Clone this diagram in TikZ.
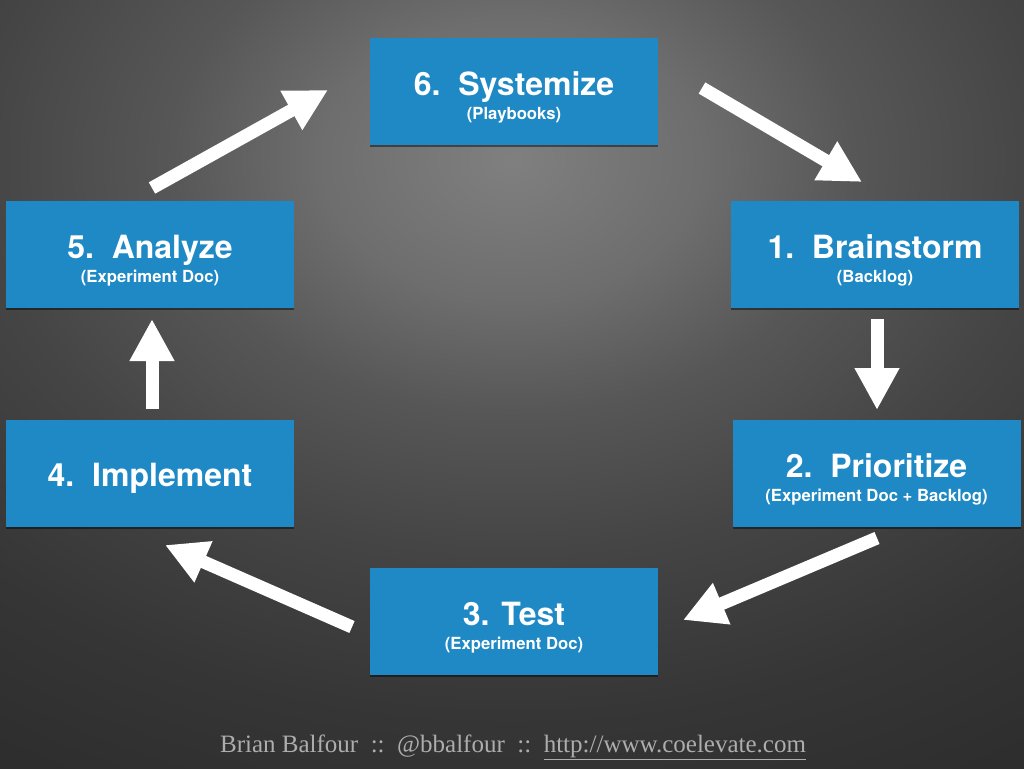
\documentclass[tikz,border=0pt]{standalone}
\usepackage{fontspec}
\setmainfont{Liberation Serif}
\newfontfamily\heros{TeX Gyre Heros}
\usetikzlibrary{arrows.meta,shadows}
\definecolor{boxblue}{RGB}{30,137,196}
\definecolor{footgray}{gray}{0.68}
\definecolor{bgA}{gray}{0.50}
\definecolor{bgB}{gray}{0.43}
\definecolor{bgC}{gray}{0.34}
\definecolor{bgD}{gray}{0.27}
\definecolor{bgE}{gray}{0.21}
\definecolor{bgF}{gray}{0.18}
\pgfdeclareradialshading{bgshade}{\pgfpoint{0bp}{0bp}}{color(0bp)=(bgA); color(4.17bp)=(bgB); color(7.5bp)=(bgC); color(11.67bp)=(bgD); color(16.67bp)=(bgE); color(20.83bp)=(bgF); color(50bp)=(bgF)}
\tikzset{
  bluebox/.style={fill=boxblue, minimum width=288pt, minimum height=107pt, inner sep=0pt,
    drop shadow={shadow xshift=0pt, shadow yshift=-2pt, opacity=0.45, fill=black}},
  ttl/.style={text=white, font=\heros\bfseries\fontsize{32}{36}\selectfont, anchor=base, inner sep=0pt},
  subttl/.style={text=white, font=\heros\bfseries\fontsize{16.7}{19}\selectfont, anchor=base, inner sep=0pt},
  flow/.style={draw=white, line width=13pt, -{Triangle[length=42pt,width=42pt]}},
  foot/.style={font=\fontsize{25}{28}\selectfont, text=footgray, anchor=base, inner sep=0pt}
}
% #1 name, #2 centre x, #3 top y, #4 title, #5 subtitle
\newcommand{\cyclebox}[5]{%
  \node[bluebox] (#1) at ({#2},{#3+53.5}) {};
  \node[ttl] (#1t) at ({#2},{#3+57}) {#4};
  \node[subttl] (#1s) at ({#2},{#3+81}) {#5};
}
\begin{document}
\begin{tikzpicture}[x=1pt,y=-1pt]
\useasboundingbox (0,0) rectangle (1024,768);
\fill[bgF] (-10,-10) rectangle (1034,778);
\shade[shading=bgshade] (512,160) ellipse [x radius=1140pt, y radius=840pt];

\cyclebox{b6}{514}{38}{6.\ \ Systemize}{(Playbooks)}
\cyclebox{b1}{875}{201}{1.\ \ Brainstorm}{(Backlog)}
\cyclebox{b2}{876.5}{420}{2.\ \ Prioritize}{(Experiment Doc + Backlog)}
\cyclebox{b3}{514}{568}{3. Test}{(Experiment Doc)}
\cyclebox{b5}{150}{201}{5.\ \ Analyze}{(Experiment Doc)}
\node[bluebox] (b4) at (150,473.5) {};
\node[ttl] (b4t) at (150,486) {4.\ \ Implement};

\coordinate (t56) at (152,188); \coordinate (h56) at (328,90);
\coordinate (t61) at (702,88);  \coordinate (h61) at (862,182);
\coordinate (t12) at (877,319); \coordinate (h12) at (877,410);
\coordinate (t23) at (877,538); \coordinate (h23) at (683,620);
\coordinate (t34) at (352,627); \coordinate (h34) at (165,545);
\coordinate (t45) at (152,409); \coordinate (h45) at (152,319);
\draw[flow] (t56) -- (h56);
\draw[flow] (t61) -- (h61);
\draw[flow] (t12) -- (h12);
\draw[flow] (t23) -- (h23);
\draw[flow] (t34) -- (h34);
\draw[flow] (t45) -- (h45);

\node[foot] (footer) at (513,752) {Brian Balfour\ \ ::\ \ @bbalfour\ \ ::\ \ \underline{http://www.coelevate.com}};
\end{tikzpicture}
\end{document}
